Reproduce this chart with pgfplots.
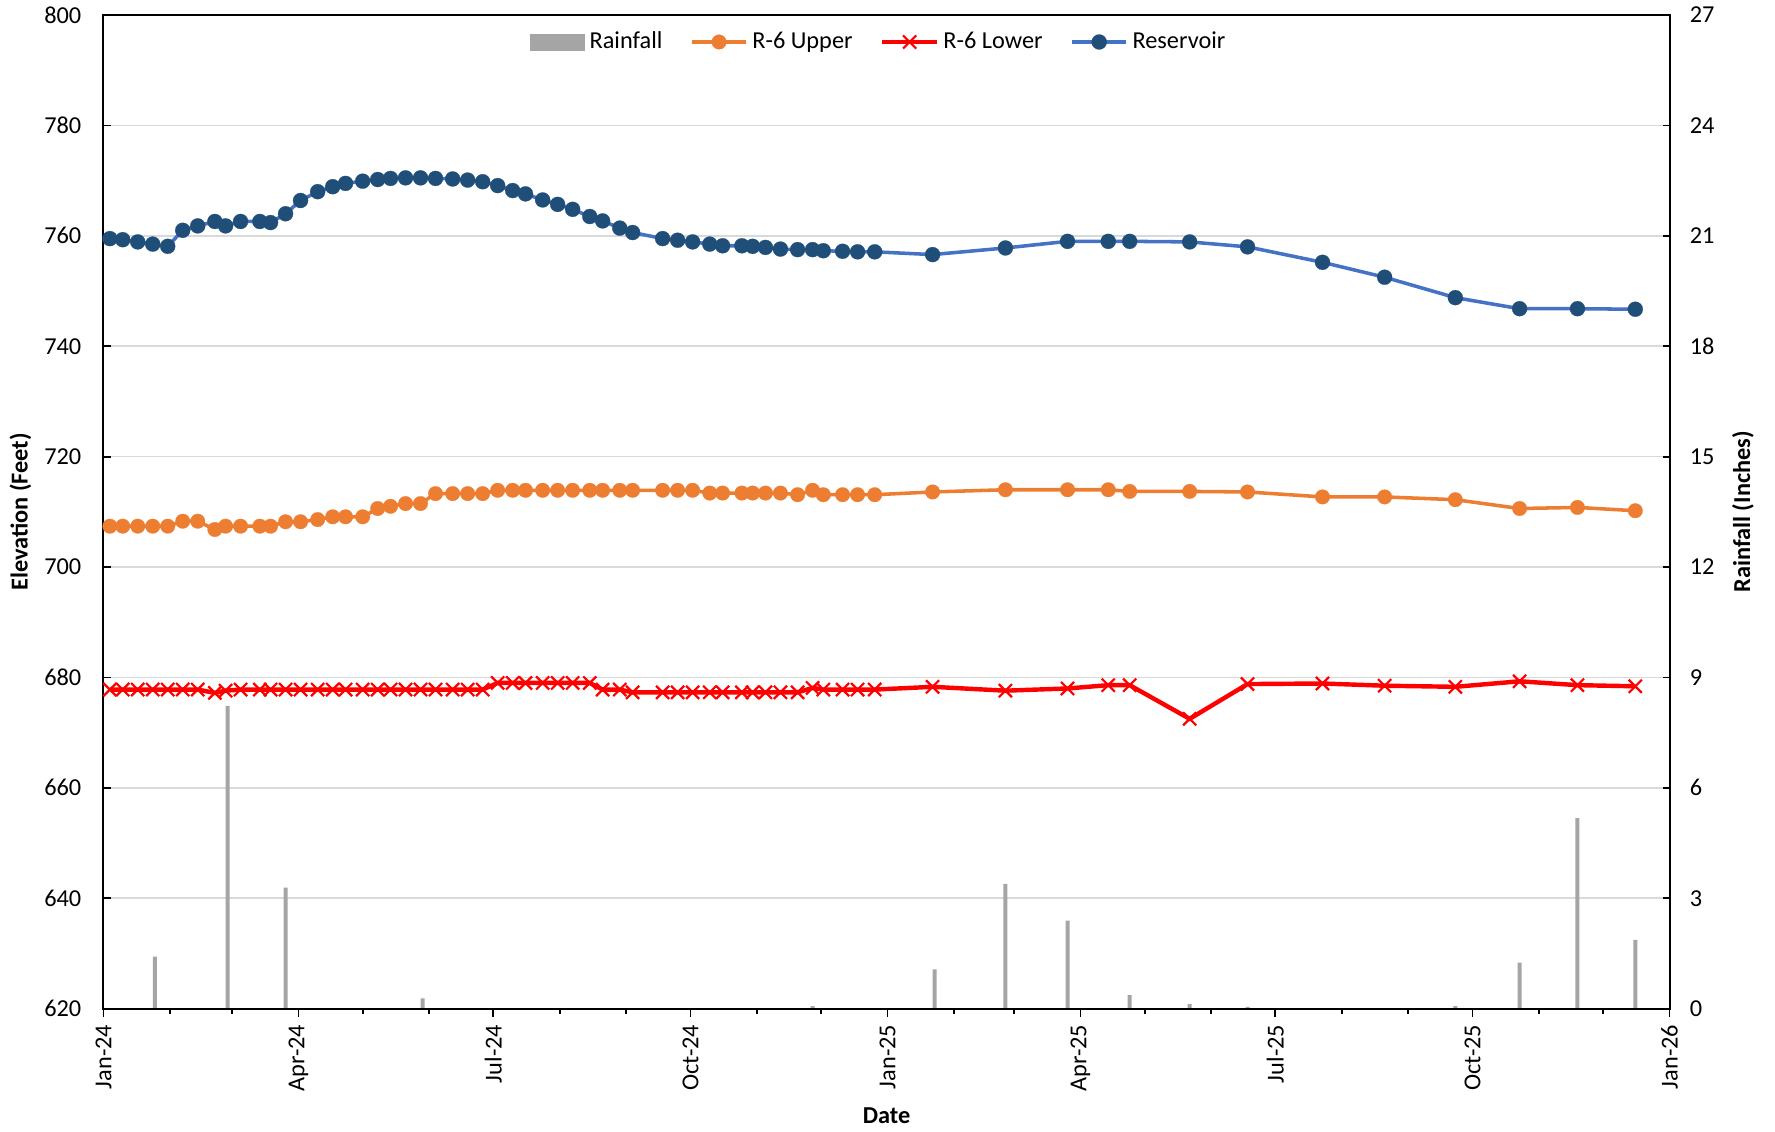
\documentclass[border=0pt]{standalone}
\usepackage{pgfplots}
\usepackage{pgfplotstable}
\pgfplotsset{compat=1.18}
\usepackage{fontspec}
\setmainfont{Carlito}
\definecolor{resline}{HTML}{4472C4}
\definecolor{resmark}{HTML}{1F4E79}
\definecolor{upc}{HTML}{ED7D31}
\definecolor{lowc}{HTML}{FF0000}
\definecolor{rainc}{HTML}{A5A5A5}
\definecolor{gridc}{HTML}{D9D9D9}

\pgfplotstableread{
day res up low
3 759.5 707.4 677.8
9 759.3 707.4 677.8
16 758.9 707.4 677.8
23 758.5 707.4 677.8
30 758.1 707.4 677.8
37 761.0 708.3 677.8
44 761.8 708.3 677.8
52 762.6 706.8 677.2
57 761.8 707.4 677.6
64 762.6 707.4 677.8
73 762.6 707.4 677.8
78 762.4 707.4 677.8
85 764.0 708.2 677.8
92 766.4 708.2 677.8
100 768.0 708.6 677.8
107 768.9 709.1 677.8
113 769.5 709.1 677.8
121 769.9 709.1 677.8
128 770.2 710.6 677.8
134 770.4 711.0 677.8
141 770.5 711.5 677.8
148 770.5 711.5 677.8
155 770.4 713.3 677.8
163 770.3 713.3 677.8
170 770.1 713.3 677.8
177 769.8 713.3 677.8
184 769.1 713.9 679.0
191 768.2 713.9 679.0
197 767.6 713.9 679.0
205 766.5 713.9 679.0
212 765.7 713.9 679.0
219 764.8 713.9 679.0
227 763.5 713.9 679.0
233 762.7 713.9 677.8
241 761.4 713.9 677.8
247 760.6 713.9 677.3
261 759.5 713.9 677.3
268 759.2 713.9 677.3
275 758.9 713.9 677.3
283 758.5 713.4 677.3
289 758.2 713.4 677.3
298 758.2 713.4 677.3
303 758.1 713.4 677.3
309 757.9 713.4 677.3
316 757.6 713.4 677.3
324 757.5 713.1 677.3
331 757.5 713.9 678.1
336 757.3 713.1 677.8
345 757.2 713.1 677.8
352 757.1 713.1 677.8
360 757.1 713.1 677.8
387 756.6 713.6 678.3
421 757.8 714.0 677.6
450 759.0 714.0 678.0
469 759.0 714.0 678.6
479 759.0 713.7 678.6
507 758.9 713.7 672.5
534 758.0 713.6 678.8
569 755.2 712.7 678.9
598 752.5 712.7 678.5
631 748.8 712.2 678.3
661 746.8 710.6 679.3
688 746.8 710.8 678.6
715 746.7 710.2 678.4
}\elev

\pgfplotstableread{
day rain
24 1.41
58 8.23
85 3.29
149 0.28
331 0.07
388 1.07
421 3.39
450 2.39
479 0.37
507 0.12
534 0.05
631 0.07
661 1.25
688 5.18
715 1.87
}\rain

\begin{document}
\begin{tikzpicture}[font=\fontsize{11}{13}\selectfont]
\pgfplotsset{
  base/.style={scale only axis, width=708.5pt, height=449.5pt, xmin=0, xmax=731,
    /pgf/number format/assume math mode=true,
    tick label style={font=\fontsize{11}{13}\selectfont, black},
    label style={font=\fontsize{11}{13}\selectfont\bfseries},
    axis line style={line width=0.9pt, black},
    every tick/.style={black, line width=0.8pt},
  }
}
% elevation axis
\begin{axis}[base, name=main, ymin=620, ymax=800, ytick={620,640,...,800},
  xtick=\empty, ymajorgrids, grid style={gridc, line width=0.7pt},
  tick align=inside, ytick pos=left, major tick length=3.2pt,
  yticklabel style={xshift=-6.5pt},
  ylabel={Elevation (Feet)},
  ylabel style={at={([xshift=-37.6pt]axis description cs:0,0.5)}, anchor=center},
  legend columns=4,
  legend style={at={(0.5,1)}, anchor=center, xshift=-3pt, yshift=-12.2pt,
    draw=none, fill=none, font=\fontsize{11}{13}\selectfont,
    /tikz/every even column/.append style={column sep=10.5pt}},
  legend image code/.code={\draw[mark repeat=2,mark phase=2,#1] plot coordinates {(0pt,0pt) (12.3pt,0pt) (24.6pt,0pt)};},
]
\addlegendimage{legend image code/.code={\fill[rainc] (0pt,-3.6pt) rectangle (24.6pt,3.6pt);}}
\addlegendentry{Rainfall}
\addplot[upc, line width=1.6pt, mark=*, mark size=3.3pt, mark options={fill=upc, draw=upc, line width=0.1pt}] table[x=day,y=up]{\elev};
\addlegendentry{R-6 Upper}
\addplot[lowc, line width=2pt, mark=x, mark size=4.2pt, mark options={draw=lowc, line width=1pt}] table[x=day,y=low]{\elev};
\addlegendentry{R-6 Lower}
\addplot[resline, line width=1.6pt, mark=*, mark size=3.4pt, mark options={fill=resmark, draw=resmark, line width=0.1pt}] table[x=day,y=res]{\elev};
\addlegendentry{Reservoir}
\end{axis}
% rainfall axis
\begin{axis}[base, ymin=0, ymax=27, ytick={0,3,...,27},
  axis y line*=right, axis x line=none, tick align=inside, major tick length=3.2pt,
  yticklabel style={xshift=5.6pt},
  ylabel={Rainfall (Inches)},
  ylabel style={at={([xshift=33.2pt]axis description cs:1,0.5)}, anchor=center},
]
\addplot[ybar, bar width=1.8pt, fill=rainc, draw=none] table[x=day,y=rain]{\rain};
\end{axis}
% x axis
\begin{axis}[base, ymin=0, ymax=1, axis y line=none, axis x line*=bottom,
  tick align=outside, major tick length=3.8pt, minor tick length=2.3pt,
  xtick={0,91,182,274,366,456,547,639,731},
  xticklabels={Jan-24,Apr-24,Jul-24,Oct-24,Jan-25,Apr-25,Jul-25,Oct-25,Jan-26},
  minor xtick={31,60,121,152,213,244,305,335,397,425,486,517,578,609,670,700},
  xticklabel style={rotate=90, anchor=east},
  xlabel={Date},
  xlabel style={at={([yshift=-48.6pt]axis description cs:0.5,0)}, anchor=center},
]
\end{axis}
\pgfresetboundingbox
\path[use as bounding box] ([xshift=-46.8pt,yshift=-55.4pt]main.south west) rectangle ([xshift=47.7pt,yshift=6.8pt]main.north east);
\end{tikzpicture}
\end{document}
